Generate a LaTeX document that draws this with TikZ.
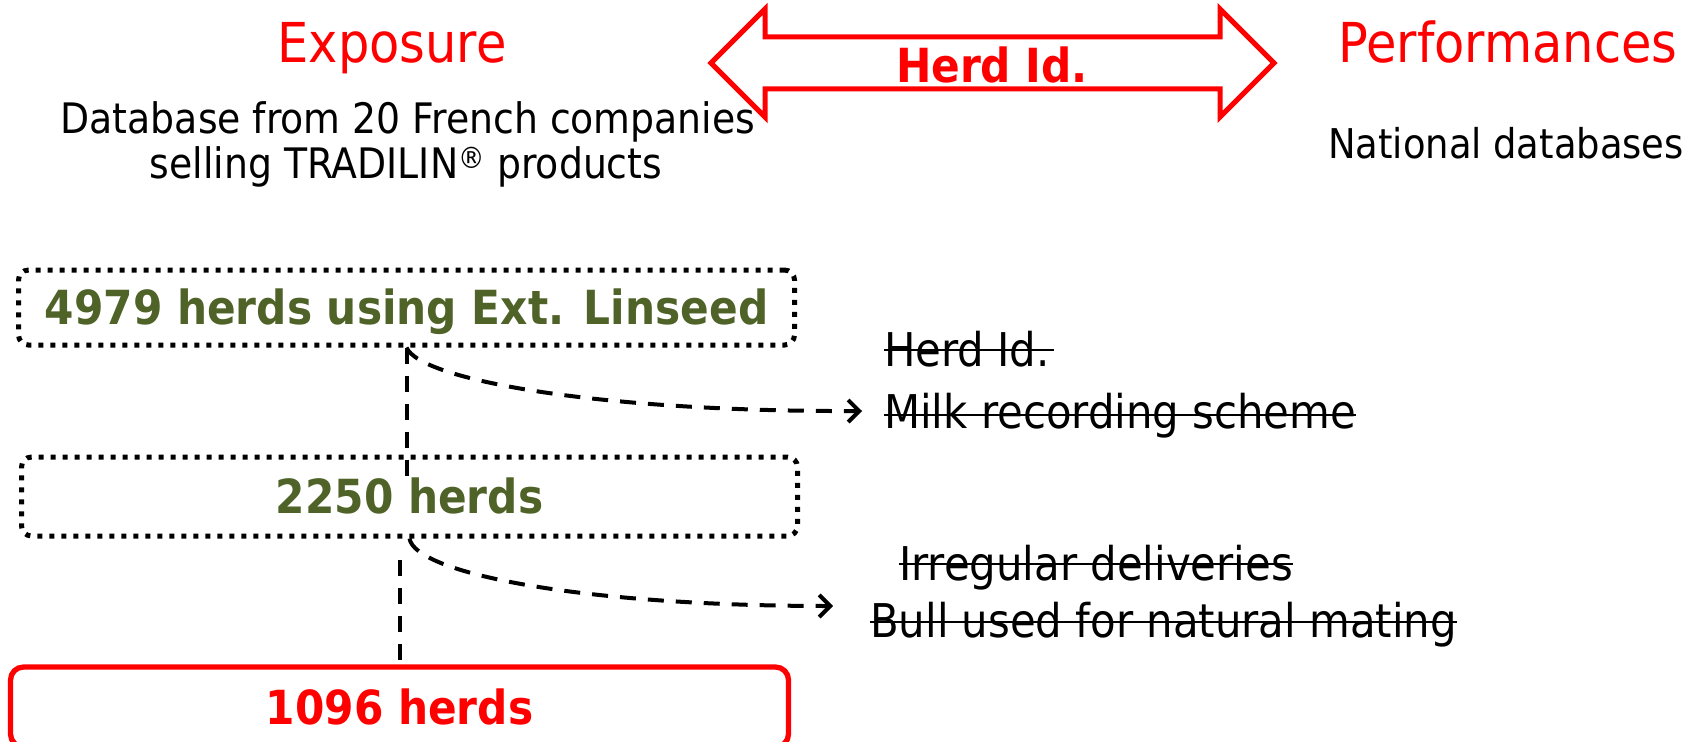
\documentclass[tikz,border=0pt]{standalone}
\usepackage{fontspec}
\setmainfont{DejaVu Sans Condensed}
\usetikzlibrary{arrows.meta}
\definecolor{pptred}{RGB}{255,0,0}
\definecolor{olivegreen}{RGB}{79,98,40}
\begin{document}
\begin{tikzpicture}[x=1pt,y=-1pt,
  heading/.style={font=\fontsize{55}{60}\selectfont, text=pptred, inner sep=0pt, anchor=base},
  body/.style={font=\fontsize{42}{45}\selectfont, inner sep=0pt, anchor=base},
  struck/.style={font=\fontsize{46.5}{50}\selectfont, inner sep=0pt, anchor=base west},
  strikeline/.style={line width=2.7pt},
  boldtxt/.style={font=\fontsize{47}{52}\selectfont\bfseries, text height=34.3pt, text depth=0pt, inner sep=0pt},
  dotbox/.style={draw=black, line width=5pt, dash pattern=on 5pt off 7pt, rounded corners=10pt, boldtxt, text=olivegreen, minimum width=776pt, minimum height=75pt},
  redbox/.style={draw=pptred, line width=5.3pt, rounded corners=13pt, boldtxt, text=pptred, minimum width=778pt, minimum height=80pt},
  dashline/.style={line width=4pt, dash pattern=on 16pt off 12pt},
  barb/.style={-{Straight Barb[length=11pt,width=22pt,line width=4pt]}}
]
\useasboundingbox (0,0) rectangle (1696,741);
\clip (0,0) rectangle (1696,741);

% headings
\node[heading] (exposure) at (392,63) {Exposure};
\node[heading] (perf) at (1508,63) {Performances};

% double arrow
\draw[pptred, line width=5pt, fill=white, line join=miter]
  (711,63) -- (765,9) -- (765,37) -- (1220,37) -- (1220,9) -- (1274,63)
  -- (1220,117) -- (1220,89) -- (765,89) -- (765,117) -- cycle;
\node[font=\fontsize{47}{52}\selectfont\bfseries, text=pptred, inner sep=0pt, anchor=base] (herdid) at (992,83) {Herd Id.};

% sources
\node[body] (db1) at (408,133) {Database from 20 French companies};
\node[body] (db2) at (406,178) {selling TRADILIN\textsuperscript{®} products};
\node[body, font=\fontsize{41}{45}\selectfont] (nat) at (1506,158) {National databases};

% boxes
\node[dotbox] (box1) at (406.5,307.5) {4979 herds using Ext. Linseed};
\node[dotbox, minimum height=79pt] (box2) at (409.5,496.5) {2250 herds};
\node[redbox] (box3) at (399.5,707) {1096 herds};

% struck-out criteria
\node[struck] (s1) at (884,366) {Herd Id.};
\node[struck] (s2) at (884,428) {Milk recording scheme};
\node[struck] (s3) at (899,580) {Irregular deliveries};
\node[struck] (s4) at (870,637) {Bull used for natural mating};
\draw[strikeline] ([yshift=16pt]s1.base west) -- ([yshift=16pt,xshift=4pt]s1.base east);
\draw[strikeline] ([yshift=13pt]s2.base west) -- ([yshift=13pt]s2.base east);
\draw[strikeline] ([yshift=16pt]s3.base west) -- ([yshift=16pt]s3.base east);
\draw[strikeline] ([yshift=15pt]s4.base west) -- ([yshift=15pt]s4.base east);

% connectors
\coordinate (v1end) at (406,477);
\coordinate (v2start) at (400,560);
\coordinate (arr1) at (862,411);
\coordinate (arr2) at (833,606);
\draw[dashline] (box1.south) -- (box1.south |- v1end);
\draw[dashline] (v2start) -- (v2start |- box3.north);
\draw[dashline, barb] (box1.south) .. controls (420,380) and (600,412) .. (arr1);
\draw[dashline, barb] (box2.south) .. controls (415,573) and (580,606) .. (arr2);
\end{tikzpicture}
\end{document}
